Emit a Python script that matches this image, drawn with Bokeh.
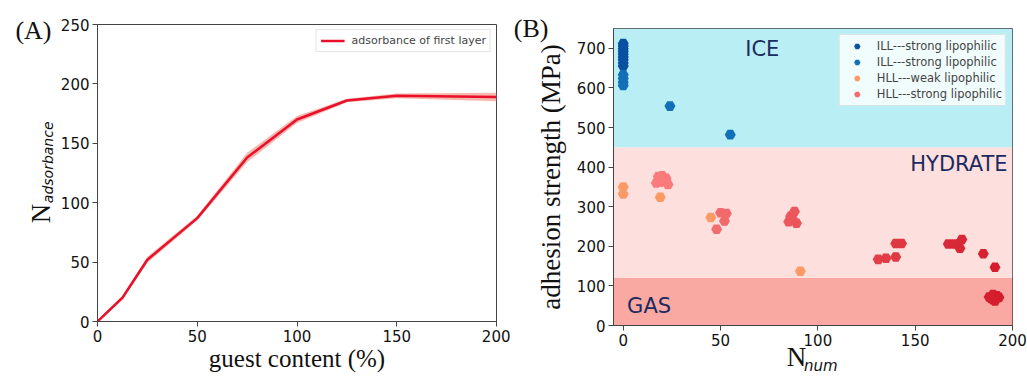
import numpy as np
from bokeh.plotting import figure
from bokeh.layouts import row, column
from bokeh.models import (Range1d, FixedTicker, Label, Legend, LegendItem,
                          ColumnDataSource, LinearAxis)
from bokeh.transform import linear_cmap
from bokeh.embed import file_html
from bokeh.resources import INLINE

# ---------------- data: panel A ----------------
guest_content = [0, 12.5, 25, 50, 75, 100, 125, 150, 200]
n_adsorbance = [0, 20, 52, 87, 138, 170, 186, 190, 189]
n_adsorbance_err = [0.5, 1.5, 2.5, 2, 4, 3, 1.5, 2, 3.5]

# ---------------- data: panel B ----------------
region_names = ["GAS", "HYDRATE", "ICE"]
region_bottom = [0, 120, 450]
region_top = [120, 450, 750]

ill1_x = [0, 0, 0, 0, 0, 0, 0, 0, 0]
ill1_y = [712, 706, 699, 692, 685, 678, 671, 663, 655]
ill2_x = [0, 0, 0, 0, 24, 55]
ill2_y = [633, 624, 614, 606, 554, 482]
hllw_x = [0, 0, 19, 45, 91]
hllw_y = [350, 332, 324, 273, 137]
hlls_x = [18, 20, 22, 17, 19, 21, 23, 19, 48, 50, 53, 52, 85, 86, 88, 87, 89,
          131, 135, 140, 140, 143, 167, 170, 173, 174, 185, 191,
          188, 190, 192, 190, 193, 191, 189]
hlls_y = [376, 378, 372, 360, 362, 365, 356, 369, 243, 285, 283, 264, 262, 276, 288, 269, 258,
          167, 170, 173, 207, 207, 206, 206, 195, 217, 181, 147,
          72, 78, 75, 65, 71, 62, 68]

x_ticks_a = [0, 50, 100, 150, 200]
y_ticks_a = [0, 50, 100, 150, 200, 250]
x_ticks_b = [0, 50, 100, 150, 200]
y_ticks_b = [0, 100, 200, 300, 400, 500, 600, 700]

SERIF = "Liberation Serif"
SANS = "DejaVu Sans"
TICK_SIZE = "15px"


def style_axes(p):
    for ax in (p.xaxis[0], p.yaxis[0]):
        ax.major_tick_out = 5
        ax.major_tick_in = 0
        ax.minor_tick_line_color = None
        ax.axis_line_color = "#444444"
        ax.major_tick_line_color = "#444444"
        ax.major_label_text_font = SANS
        ax.major_label_text_font_size = TICK_SIZE
        ax.major_label_text_color = "#111111"
        ax.major_label_standoff = 3
        ax.axis_label_text_font = SERIF
        ax.axis_label_text_font_style = "normal"
        ax.axis_label_text_color = "#111111"
    p.xgrid.visible = False
    p.ygrid.visible = False
    p.outline_line_color = "#444444"
    p.outline_line_alpha = 1.0


def text_axis(p, place, pos, text, font, size, style="normal",
              orientation="horizontal", standoff=0):
    """An axis without line or ticks that only carries one text at `pos`."""
    ax = LinearAxis(ticker=FixedTicker(ticks=[pos], minor_ticks=[]),
                    major_label_overrides={pos: text})
    ax.axis_line_color = None
    ax.major_tick_line_color = None
    ax.minor_tick_line_color = None
    ax.major_tick_out = 0
    ax.major_tick_in = 0
    ax.minor_tick_out = 0
    ax.minor_tick_in = 0
    ax.major_label_text_font = font
    ax.major_label_text_font_size = size
    ax.major_label_text_font_style = style
    ax.major_label_text_color = "#111111"
    ax.major_label_orientation = orientation
    ax.major_label_standoff = standoff
    p.add_layout(ax, place)
    return ax


H = 377

# ---------------- panel A ----------------
pa = figure(width=510, height=H, output_backend="svg", toolbar_location=None,
            x_range=Range1d(0, 200), y_range=Range1d(0, 250),
            min_border_left=97, min_border_right=14, min_border_top=24,
            min_border_bottom=56)
style_axes(pa)
pa.xaxis.ticker = FixedTicker(ticks=x_ticks_a)
pa.yaxis.ticker = FixedTicker(ticks=y_ticks_a)
pa.xaxis.axis_label = "guest content (%)"
pa.xaxis.axis_label_text_font_size = "25px"
pa.xaxis.axis_label_standoff = 0

lo = [v - e for v, e in zip(n_adsorbance, n_adsorbance_err)]
hi = [v + e for v, e in zip(n_adsorbance, n_adsorbance_err)]
pa.varea(x=guest_content, y1=lo, y2=hi, fill_color="#f4a093", fill_alpha=0.75)
ln = pa.line(guest_content, n_adsorbance, line_color="#e8102a", line_width=2.5)

lega = Legend(items=[LegendItem(label="adsorbance of first layer", renderers=[ln])],
              location="top_right")
lega.label_text_font = SANS
lega.label_text_font_size = "11px"
lega.label_height = 13
lega.glyph_height = 13
lega.glyph_width = 24
lega.label_standoff = 7
lega.padding = 4
lega.margin = 5
lega.spacing = 0
lega.border_line_color = "#cccccc"
lega.background_fill_alpha = 0.9
pa.add_layout(lega)

# y-axis title "N_adsorbance" and panel tag "(A)", carried by text-only axes
text_axis(pa, "left", 134, "adsorbance", SANS, "14px", "italic", "vertical", 1)
text_axis(pa, "left", 91, "N", SERIF, "27px", "normal", "vertical", -19)
text_axis(pa, "left", 245, "(A)", SERIF, "26px", "normal", "horizontal", -28)

# ---------------- panel B ----------------
pb = figure(width=517, height=H, output_backend="svg", toolbar_location=None,
            x_range=Range1d(-5, 200), y_range=Range1d(0, 750),
            min_border_left=103, min_border_right=15, min_border_top=28,
            min_border_bottom=52)
style_axes(pb)
pb.xaxis.ticker = FixedTicker(ticks=x_ticks_b)
pb.yaxis.ticker = FixedTicker(ticks=y_ticks_b)
pb.yaxis.axis_label = "adhesion strength (MPa)"
pb.yaxis.axis_label_text_font_size = "27px"
pb.yaxis.axis_label_standoff = 8

region_colors = ["#f9a9a1", "#fde0dd", "#b9eef5"]
pb.quad(left=-5, right=200, bottom=region_bottom, top=region_top,
        fill_color=region_colors, line_color=None)

r1 = pb.scatter(ill1_x, ill1_y, marker="hex", size=11, fill_color="#0a50a0",
                line_color=None)
r2 = pb.scatter(ill2_x, ill2_y, marker="hex", size=11, fill_color="#1170b8",
                line_color=None)
r3 = pb.scatter(hllw_x, hllw_y, marker="hex", size=11, fill_color="#fc9a66",
                line_color=None)

c0 = np.array([250, 125, 125])
c1 = np.array([212, 28, 44])
reds = ["#%02x%02x%02x" % tuple(int(round(v)) for v in c0 + (c1 - c0) * t)
        for t in np.linspace(0, 1, 64)]
src4 = ColumnDataSource(dict(x=hlls_x, y=hlls_y))
r4 = pb.scatter("x", "y", source=src4, marker="hex", size=11, line_color=None,
                fill_color=linear_cmap("x", reds, 15, 195))

legb = Legend(items=[
    LegendItem(label="ILL---strong lipophilic", renderers=[r1]),
    LegendItem(label="ILL---strong lipophilic", renderers=[r2]),
    LegendItem(label="HLL---weak lipophilic", renderers=[r3]),
    LegendItem(label="HLL---strong lipophilic", renderers=[r4], index=9),
], location="top_right")
legb.label_text_font = SANS
legb.label_text_font_size = "11.5px"
legb.label_height = 16
legb.glyph_height = 16
legb.glyph_width = 28
legb.padding = 3
legb.margin = 6
legb.spacing = 0
legb.label_standoff = 6
legb.border_line_color = "#cccccc"
legb.background_fill_color = "white"
legb.background_fill_alpha = 0.8
pb.add_layout(legb)

NAVY = "#1b2a60"
pb.add_layout(Label(x=62.7, y=697, text="ICE", text_font=SANS, text_font_size="21px",
                    text_align="left", text_baseline="middle", text_color=NAVY))
pb.add_layout(Label(x=197.5, y=409, text="HYDRATE", text_font=SANS, text_font_size="21px",
                    text_align="right", text_baseline="middle", text_color=NAVY))
pb.add_layout(Label(x=2, y=50, text="GAS", text_font=SANS, text_font_size="21px",
                    text_align="left", text_baseline="middle", text_color=NAVY))

# x-axis title "N_num" and panel tag "(B)"
text_axis(pb, "below", 89, "N", SERIF, "27px", "normal", "horizontal", -7)
text_axis(pb, "below", 101.5, "num", SANS, "15px", "italic", "horizontal", -18)
text_axis(pb, "left", 749, "(B)", SERIF, "26px", "normal", "horizontal", -16)

layout = row(column(pa), column(pb))
open("out.html", "w").write(file_html(layout, INLINE))
